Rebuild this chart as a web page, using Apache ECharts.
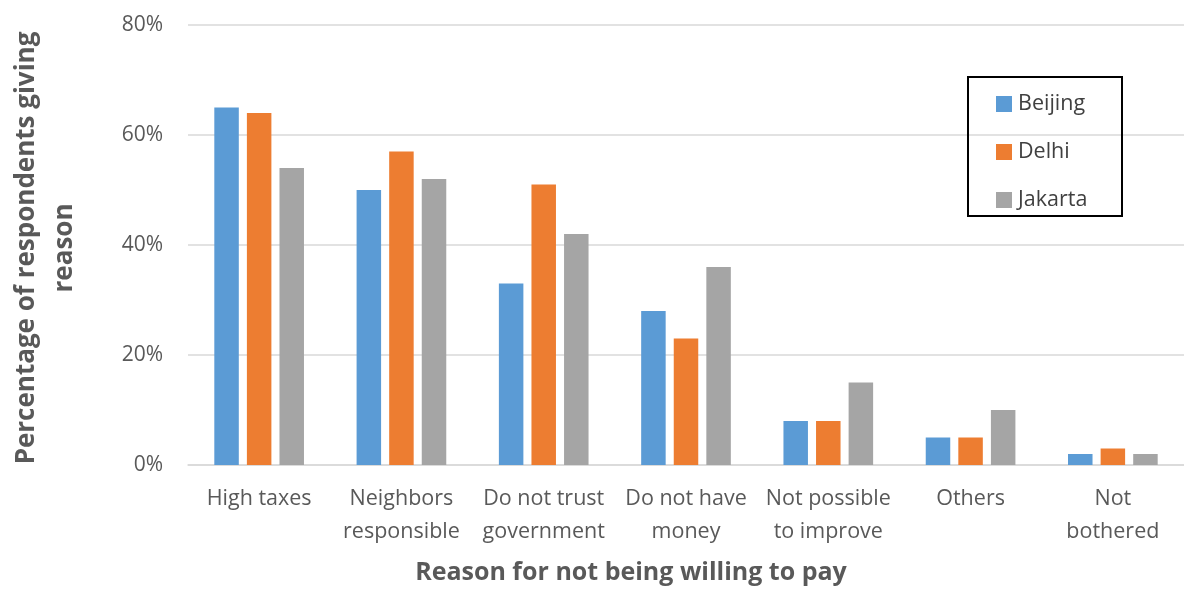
<!DOCTYPE html>
<html>
<head>
<meta charset="utf-8">
<script src="https://cdn.jsdelivr.net/npm/echarts@6/dist/echarts.min.js"></script>
<style>
  html, body { margin: 0; padding: 0; background: #ffffff; }
  #chart { width: 1184px; height: 593px; }
</style>
</head>
<body>
<div id="chart"></div>
<script>
// Reasons given for not being willing to pay, share of respondents (%)
const categories = [
  'High taxes',
  'Neighbors\nresponsible',
  'Do not trust\ngovernment',
  'Do not have\nmoney',
  'Not possible\nto improve',
  'Others',
  'Not\nbothered'
];
const beijing = [65, 50, 33, 28, 8, 5, 2];
const delhi   = [64, 57, 51, 23, 8, 5, 3];
const jakarta = [54, 52, 42, 36, 15, 10, 2];
const yTicks = [0, 20, 40, 60, 80];

const FONT = '"Open Sans", Lato, sans-serif';
const TEXT = '#595959';

const chart = echarts.init(document.getElementById('chart'), null, { renderer: 'canvas' });

const barStyle = (color) => ({
  type: 'bar',
  barWidth: 24.5,
  barGap: '33%',
  itemStyle: { color: color },
  emphasis: { disabled: true }
});

chart.setOption({
  animation: false,
  backgroundColor: '#ffffff',
  grid: { left: 188, top: 25, width: 998, height: 440, containLabel: false },
  legend: {
    orient: 'vertical',
    left: 996,
    top: 93,
    padding: 0,
    itemWidth: 16,
    itemHeight: 16,
    itemGap: 26,
    icon: 'rect',
    selectedMode: false,
    textStyle: { fontFamily: FONT, fontSize: 21.5, color: '#404040', lineHeight: 20, padding: [0, 0, 0, 1] },
    data: ['Beijing', 'Delhi', 'Jakarta']
  },
  xAxis: {
    type: 'category',
    data: categories,
    axisLine: { show: true, lineStyle: { color: '#D9D9D9', width: 1.5 } },
    axisTick: { show: false },
    axisLabel: {
      interval: 0,
      margin: 17,
      fontFamily: FONT,
      fontSize: 21.5,
      color: TEXT,
      lineHeight: 33,
      align: 'center'
    }
  },
  yAxis: {
    type: 'value',
    min: yTicks[0],
    max: yTicks[yTicks.length - 1],
    interval: yTicks[1] - yTicks[0],
    axisLine: { show: false },
    axisTick: { show: false },
    splitLine: { lineStyle: { color: '#D9D9D9', width: 1.5 } },
    axisLabel: {
      margin: 25,
      fontFamily: FONT,
      fontSize: 21,
      color: TEXT,
      formatter: (v) => v + '%'
    }
  },
  graphic: [
    {
      type: 'rect',
      shape: { x: 968, y: 77, width: 154, height: 139 },
      style: { fill: 'none', stroke: '#000000', lineWidth: 2 },
      z: 10
    },
    {
      type: 'text',
      x: 631,
      y: 573,
      style: {
        text: 'Reason for not being willing to pay',
        fontFamily: FONT,
        fontSize: 25,
        fontWeight: 'bold',
        fill: TEXT,
        align: 'center',
        verticalAlign: 'middle'
      }
    },
    {
      type: 'text',
      x: 46,
      y: 248,
      rotation: Math.PI / 2,
      style: {
        text: 'Percentage of respondents giving\nreason',
        fontFamily: FONT,
        fontSize: 26,
        fontWeight: 'bold',
        fill: TEXT,
        align: 'center',
        verticalAlign: 'middle',
        lineHeight: 38
      }
    }
  ],
  series: [
    Object.assign(barStyle('#5B9BD5'), { name: 'Beijing', data: beijing }),
    Object.assign(barStyle('#ED7D31'), { name: 'Delhi', data: delhi }),
    Object.assign(barStyle('#A5A5A5'), { name: 'Jakarta', data: jakarta })
  ]
});
</script>
</body>
</html>
